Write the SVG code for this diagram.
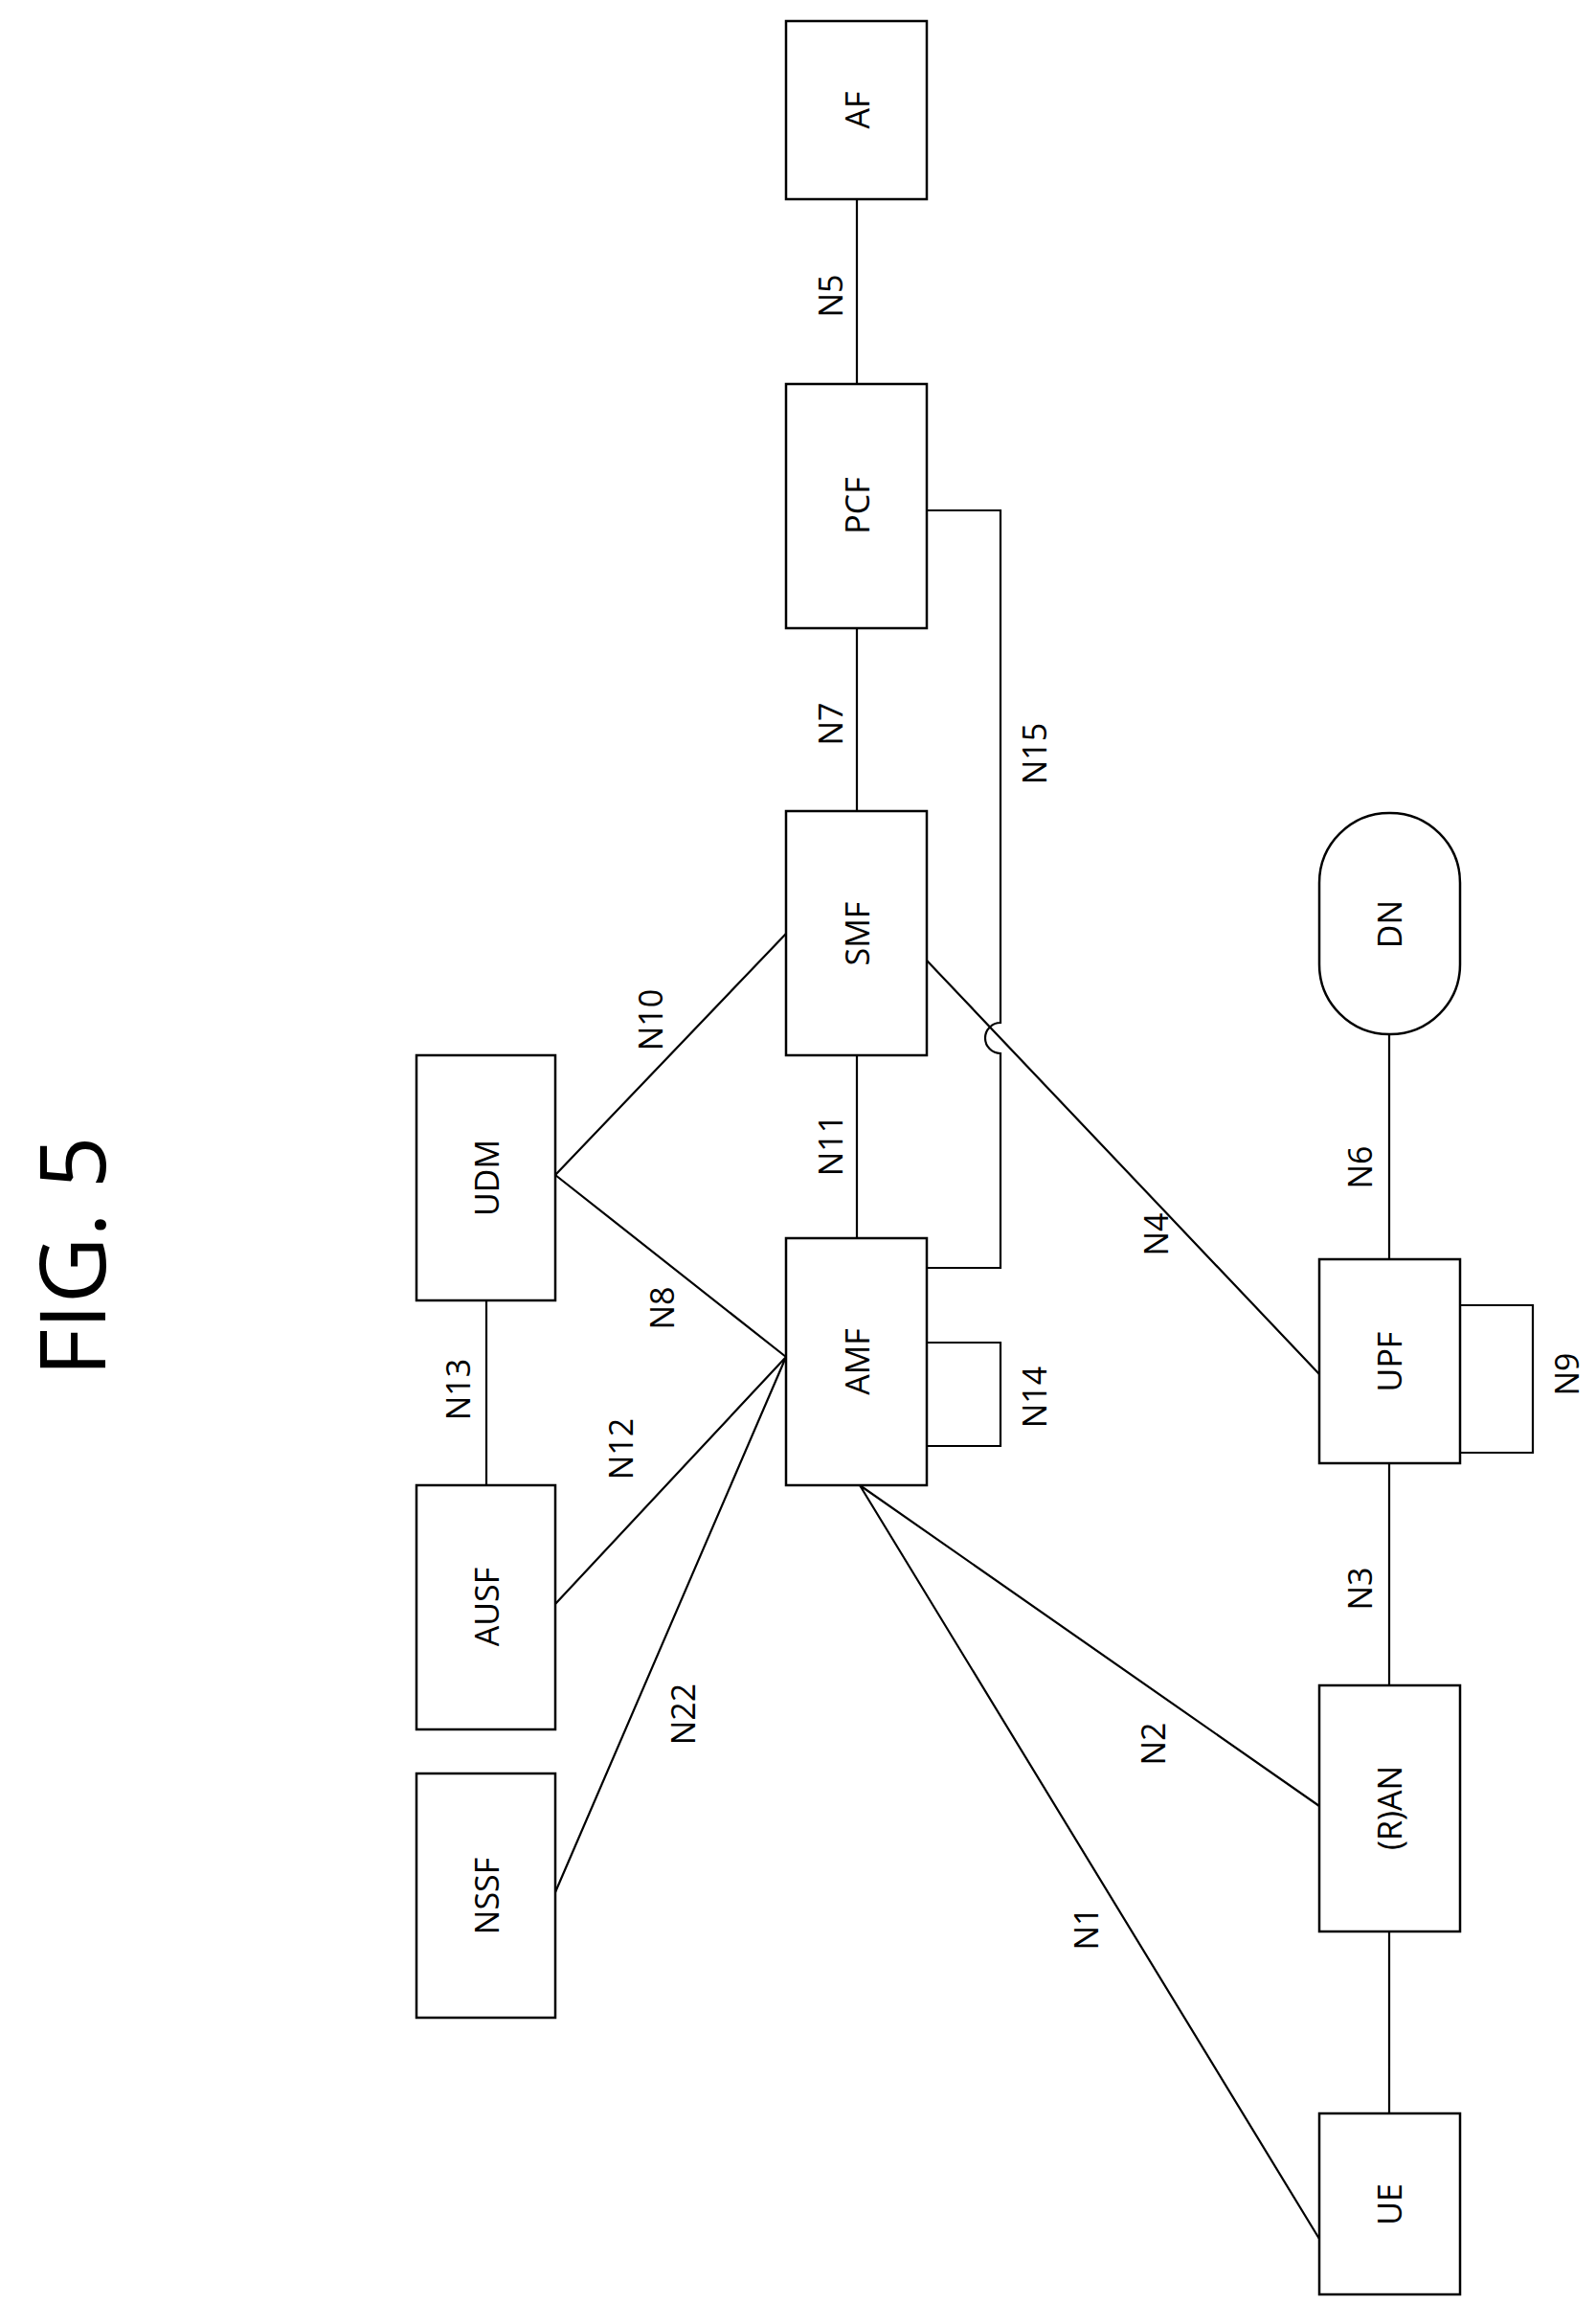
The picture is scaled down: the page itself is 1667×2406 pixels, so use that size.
<svg xmlns="http://www.w3.org/2000/svg" width="1667" height="2406" viewBox="0 0 1667 2406">
<style>
.b{fill:#fff;stroke:#000;stroke-width:2.5}
.l{fill:none;stroke:#000;stroke-width:2.2}
text{font-family:"Open Sans","Liberation Sans",sans-serif;font-size:34px;text-anchor:middle;dominant-baseline:central;fill:#000}
.t{font-size:96px}
</style>
<rect width="1667" height="2406" fill="#fff"/>
<text class="t" transform="rotate(-90 72 1312)" x="72" y="1312">FIG. 5</text>
<g id="connectors">
<path class="l" d="M895 208V401M895 656V847M895 1102V1293M508 1358V1551M580 1227L821 975M580 1227L821 1417M580 1675L821 1417M580 1976L821 1417M898 1551L1378 1886M898 1551L1378 2338M968 1003L1378 1435M1451 1080V1315M1451 1528V1760M1451 2017V2207"/>
<path class="l" d="M968 1402H1045V1510H968M1525 1363H1601V1517H1525"/>
<path class="l" d="M968 533H1045V1068A16 16 0 0 0 1045 1100V1324H968"/>
<text transform="rotate(-90 867 309)" x="867" y="309">N5</text>
<text transform="rotate(-90 867 756)" x="867" y="756">N7</text>
<text transform="rotate(-90 867 1196)" x="867" y="1196">N11</text>
<text transform="rotate(-90 478 1451)" x="478" y="1451">N13</text>
<text transform="rotate(-90 679 1065)" x="679" y="1065">N10</text>
<text transform="rotate(-90 691 1366)" x="691" y="1366">N8</text>
<text transform="rotate(-90 648 1513)" x="648" y="1513">N12</text>
<text transform="rotate(-90 713 1790)" x="713" y="1790">N22</text>
<text transform="rotate(-90 1204 1821)" x="1204" y="1821">N2</text>
<text transform="rotate(-90 1134 2014)" x="1134" y="2014">N1</text>
<text transform="rotate(-90 1207 1289)" x="1207" y="1289">N4</text>
<text transform="rotate(-90 1420 1219)" x="1420" y="1219">N6</text>
<text transform="rotate(-90 1420 1659)" x="1420" y="1659">N3</text>
<text transform="rotate(-90 1080 1459)" x="1080" y="1459">N14</text>
<text transform="rotate(-90 1636 1435)" x="1636" y="1435">N9</text>
<text transform="rotate(-90 1080 787)" x="1080" y="787">N15</text>
</g>
<g id="AF"><rect class="b" x="821" y="22" width="147" height="186"/><text transform="rotate(-90 895 115)" x="895" y="115">AF</text></g>
<g id="PCF"><rect class="b" x="821" y="401" width="147" height="255"/><text transform="rotate(-90 895 528)" x="895" y="528">PCF</text></g>
<g id="SMF"><rect class="b" x="821" y="847" width="147" height="255"/><text transform="rotate(-90 895 975)" x="895" y="975">SMF</text></g>
<g id="AMF"><rect class="b" x="821" y="1293" width="147" height="258"/><text transform="rotate(-90 895 1422)" x="895" y="1422">AMF</text></g>
<g id="UDM"><rect class="b" x="435" y="1102" width="145" height="256"/><text transform="rotate(-90 508 1230)" x="508" y="1230">UDM</text></g>
<g id="AUSF"><rect class="b" x="435" y="1551" width="145" height="255"/><text transform="rotate(-90 508 1678)" x="508" y="1678">AUSF</text></g>
<g id="NSSF"><rect class="b" x="435" y="1852" width="145" height="255"/><text transform="rotate(-90 508 1980)" x="508" y="1980">NSSF</text></g>
<g id="DN"><rect class="b" x="1378" y="849" width="147" height="231" rx="73" ry="73"/><text transform="rotate(-90 1451 965)" x="1451" y="965">DN</text></g>
<g id="UPF"><rect class="b" x="1378" y="1315" width="147" height="213"/><text transform="rotate(-90 1451 1422)" x="1451" y="1422">UPF</text></g>
<g id="RAN"><rect class="b" x="1378" y="1760" width="147" height="257"/><text transform="rotate(-90 1451 1888)" x="1451" y="1888">(R)AN</text></g>
<g id="UE"><rect class="b" x="1378" y="2207" width="147" height="189"/><text transform="rotate(-90 1451 2302)" x="1451" y="2302">UE</text></g>
</svg>
